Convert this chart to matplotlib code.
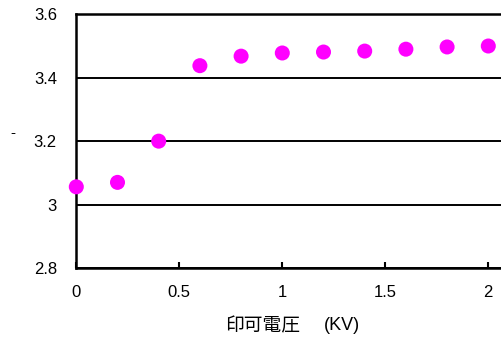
import matplotlib
matplotlib.use("Agg")
import matplotlib.pyplot as plt

plt.rcParams['font.family'] = ['Liberation Sans', 'Noto Sans CJK JP', 'DejaVu Sans']

voltage = [0.0, 0.2, 0.4, 0.6, 0.8, 1.0, 1.2, 1.4, 1.6, 1.8, 2.0]
values = [3.056, 3.07, 3.20, 3.438, 3.468, 3.478, 3.481, 3.484, 3.490, 3.497, 3.500]
xticks = [0, 0.5, 1, 1.5, 2]
xtick_labels = ["0", "0.5", "1", "1.5", "2"]
yticks = [2.8, 3.0, 3.2, 3.4, 3.6]
ytick_labels = ["2.8", "3", "3.2", "3.4", "3.6"]

W, H = 502, 338
fig = plt.figure(figsize=(W / 100, H / 100), dpi=100)
left_px, px_per_unit = 76.3, 206.0
xmax = 2.5
ax = fig.add_axes([left_px / W, (H - 268.0) / H, xmax * px_per_unit / W, (268.0 - 14.3) / H])

ax.scatter(voltage, values, s=117, color="#ff00ff", edgecolors="none", zorder=3, clip_on=False)

ax.set_xlim(0, xmax)
ax.set_ylim(2.8, 3.6)
ax.set_xticks(xticks)
ax.set_xticklabels(xtick_labels, fontsize=12)
ax.set_yticks(yticks)
ax.set_yticklabels(ytick_labels, fontsize=12)
ax.tick_params(axis='x', direction='in', length=4, width=1.5, pad=12)
ax.tick_params(axis='y', length=0, pad=14)
ax.yaxis.grid(True, color='black', linewidth=1.4)
ax.set_axisbelow(True)
for s in ax.spines.values():
    s.set_linewidth(1.8)
    s.set_color('black')

fig.text(262.5 / W, 1 - 326 / H, "印可電圧", fontsize=13.5, ha='center', va='center',
         family=['Noto Sans CJK JP', 'Liberation Sans'])
fig.text(342 / W, 1 - 326 / H, "(KV)", fontsize=13, ha='center', va='center')
fig.text(13 / W, 1 - 133 / H, "-", fontsize=11, ha='center', va='center')

fig.savefig("out.png", dpi=100)
